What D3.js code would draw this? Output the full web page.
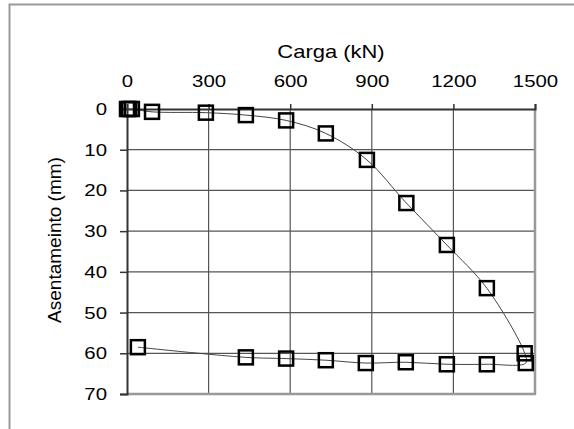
<!DOCTYPE html>
<html><head><meta charset="utf-8">
<script src="https://cdn.jsdelivr.net/npm/d3@7"></script>
<style>
html,body{margin:0;padding:0;background:#fff;}
svg text{font-family:"Liberation Sans",Arial,sans-serif;fill:#000;}
</style></head>
<body>
<svg id="c" width="574" height="429"></svg>
<script>
// Data
const loadKN = [0, 8, 18, 92, 290, 437, 585, 731, 882, 1027, 1176, 1323, 1462,
                1466, 1323, 1176, 1025, 878, 731, 585, 437, 40];
const settlementMM = [0, 0, 0, 0.7, 0.9, 1.5, 2.8, 6.0, 12.5, 23.1, 33.4, 44.0, 60.0,
                      62.4, 62.7, 62.7, 62.2, 62.4, 61.7, 61.3, 61.0, 58.5];
const xTicks = [0, 300, 600, 900, 1200, 1500];
const yTicks = [0, 10, 20, 30, 40, 50, 60, 70];
const xTitle = "Carga (kN)";
const yTitle = "Asentameinto (mm)";

const svg = d3.select("#c");
const L = 127, R = 535, T = 109, B = 394;
const SX = 1.2; // horizontal text stretch
const x = d3.scaleLinear().domain([0, 1500]).range([L, R]);
const y = d3.scaleLinear().domain([0, 70]).range([T, B]);

// outer frame
svg.append("rect").attr("x", 9.5).attr("y", 4.5).attr("width", 700).attr("height", 600)
  .attr("fill", "none").attr("stroke", "#999").attr("stroke-width", 2);

// grid
const g = svg.append("g");
g.selectAll("line.gx").data(xTicks.filter(d => d > 0 && d < 1500)).join("line")
  .attr("x1", d => x(d)).attr("x2", d => x(d)).attr("y1", T).attr("y2", B)
  .attr("stroke", "#555").attr("stroke-width", 1.2);
g.selectAll("line.gy").data(yTicks.filter(d => d > 0 && d < 70)).join("line")
  .attr("x1", L).attr("x2", R).attr("y1", d => y(d)).attr("y2", d => y(d))
  .attr("stroke", "#555").attr("stroke-width", 1.2);

// plot border right/bottom
svg.append("line").attr("x1", R).attr("x2", R).attr("y1", T).attr("y2", B)
  .attr("stroke", "#999").attr("stroke-width", 2.5);
svg.append("line").attr("x1", L).attr("x2", R + 1).attr("y1", B).attr("y2", B)
  .attr("stroke", "#999").attr("stroke-width", 2.5);

// axes
const xAxis = d3.axisTop(x).tickValues(xTicks).tickSize(5).tickPadding(17).tickFormat(d3.format("d"));
const ax = svg.append("g").attr("transform", `translate(0,${T})`).call(xAxis);
const yAxis = d3.axisLeft(y).tickValues(yTicks).tickSize(7).tickPadding(13).tickFormat(d3.format("d"));
const ay = svg.append("g").attr("transform", `translate(${L},0)`).call(yAxis);
[ax, ay].forEach(a => {
  a.select(".domain").attr("stroke", "#333").attr("stroke-width", 2);
  a.selectAll(".tick line").attr("stroke", "#333").attr("stroke-width", 1.5);
  a.selectAll(".tick text").attr("font-size", 17).attr("fill", "#000")
    .attr("font-family", "Liberation Sans, Arial, sans-serif");
});
ax.selectAll(".tick text").attr("transform", `scale(${SX},1)`);
ay.selectAll(".tick text").attr("x", -20 / SX).attr("transform", `scale(${SX},1)`);

// titles
svg.append("text").attr("transform", `translate(${(L + R) / 2},58) scale(1.22,1)`)
  .attr("text-anchor", "middle").attr("font-size", 18).text(xTitle);
svg.append("text").attr("transform", `translate(61,240) rotate(-90)`).attr("text-anchor", "middle")
  .attr("font-size", 19).text(yTitle);

// line
const pts = loadKN.map((d, i) => [d, settlementMM[i]]);
const line = d3.line().x(d => x(d[0])).y(d => y(d[1])).curve(d3.curveCatmullRom.alpha(0.5));
svg.append("path").datum(pts).attr("d", line).attr("fill", "none")
  .attr("stroke", "#444").attr("stroke-width", 1);

// markers
const s = 14;
svg.selectAll("rect.m").data(pts).join("rect").attr("class", "m")
  .attr("x", d => x(d[0]) - s / 2).attr("y", d => y(d[1]) - s / 2)
  .attr("width", s).attr("height", s).attr("fill", "none")
  .attr("stroke", "#000").attr("stroke-width", 2.5);
</script>
</body></html>
